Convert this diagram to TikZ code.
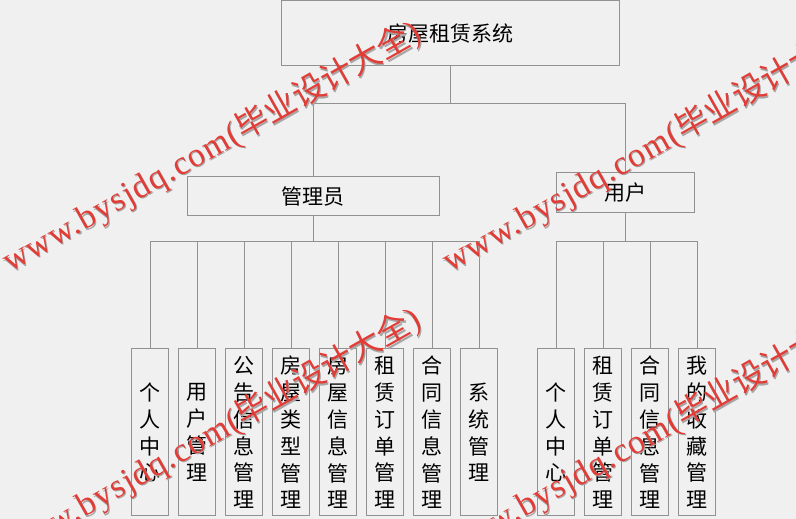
\documentclass[tikz,border=0pt]{standalone}
\usepackage{fontspec}
\setmainfont{Noto Sans CJK SC}
\newfontfamily\wmlatin[LetterSpace=4]{Liberation Serif}
\newfontfamily\wmcjk{Noto Sans CJK SC}
\definecolor{bg}{RGB}{240,240,240}
\definecolor{ln}{RGB}{145,145,145}
\definecolor{wm}{RGB}{226,60,55}
\newcommand\wmtext{{\wmlatin www.bysjdq.com(}{\wmcjk\fontsize{32.5}{34}\selectfont 毕业设计大全}{\wmlatin )}}
\begin{document}
\begin{tikzpicture}[x=1pt,y=1pt,
  box/.style={draw=ln, line width=1pt, fill=bg, inner sep=0pt, font=\fontsize{21}{26.8}\selectfont},
  colbox/.style={box, minimum width=37pt, minimum height=167pt, align=center},
  conn/.style={draw=ln, line width=1pt},
  wmark/.style={anchor=base west, rotate=29.5, text=wm, inner sep=0pt, font=\fontsize{34}{34}\selectfont},
  wmshadow/.style={wmark, text=gray!70}]
\fill[bg] (0,0) rectangle (796,519);
\useasboundingbox (0,0) rectangle (796,519);
% main boxes
\node[box, minimum width=338pt, minimum height=65pt] (top) at (450,485.5) {房屋租赁系统};
\node[box, minimum width=252pt, minimum height=39pt] (admin) at (313,322.5) {管理员};
\node[box, minimum width=138pt, minimum height=40pt] (user) at (625,326) {用户};
% admin children
\node[colbox] (a1) at (150,86.5) {个\\人\\中\\心};
\node[colbox] (a2) at (197,86.5) {用\\户\\管\\理};
\node[colbox] (a3) at (244,86.5) {公\\告\\信\\息\\管\\理};
\node[colbox] (a4) at (291,86.5) {房\\屋\\类\\型\\管\\理};
\node[colbox] (a5) at (338,86.5) {房\\屋\\信\\息\\管\\理};
\node[colbox] (a6) at (385,86.5) {租\\赁\\订\\单\\管\\理};
\node[colbox] (a7) at (432,86.5) {合\\同\\信\\息\\管\\理};
\node[colbox] (a8) at (479,86.5) {系\\统\\管\\理};
% user children
\node[colbox] (u1) at (556,86.5) {个\\人\\中\\心};
\node[colbox] (u2) at (603,86.5) {租\\赁\\订\\单\\管\\理};
\node[colbox] (u3) at (650,86.5) {合\\同\\信\\息\\管\\理};
\node[colbox] (u4) at (697,86.5) {我\\的\\收\\藏\\管\\理};
% bus coordinates
\coordinate (tb) at (450,415);
\coordinate (bus) at (0,277);
% connectors
\draw[conn] (top.south) -- (top.south |- tb);
\draw[conn] (admin.north) -- (admin.north |- tb) -- (user.north |- tb) -- (user.north);
\draw[conn] (admin.south) -- (admin.south |- bus);
\draw[conn] (a1.north) -- (a1.north |- bus) -- (a8.north |- bus) -- (a8.north);
\foreach \n in {a2,a3,a4,a5,a6,a7}
  \draw[conn] (\n.north) -- (\n.north |- bus);
\draw[conn] (user.south) -- (user.south |- bus);
\draw[conn] (u1.north) -- (u1.north |- bus) -- (u4.north |- bus) -- (u4.north);
\foreach \n in {u2,u3}
  \draw[conn] (\n.north) -- (\n.north |- bus);
% watermarks
\begin{scope}
\clip (0,0) rectangle (796,519);
\foreach \p/\q in {10/246, 450/246, 10/-41, 450/-41}{
  \node[wmshadow] (ws) at (\p+1.2,\q-1.2) {\wmtext};
  \node[wmark] (wt) at (\p,\q) {\wmtext};
}
\end{scope}
\end{tikzpicture}
\end{document}
